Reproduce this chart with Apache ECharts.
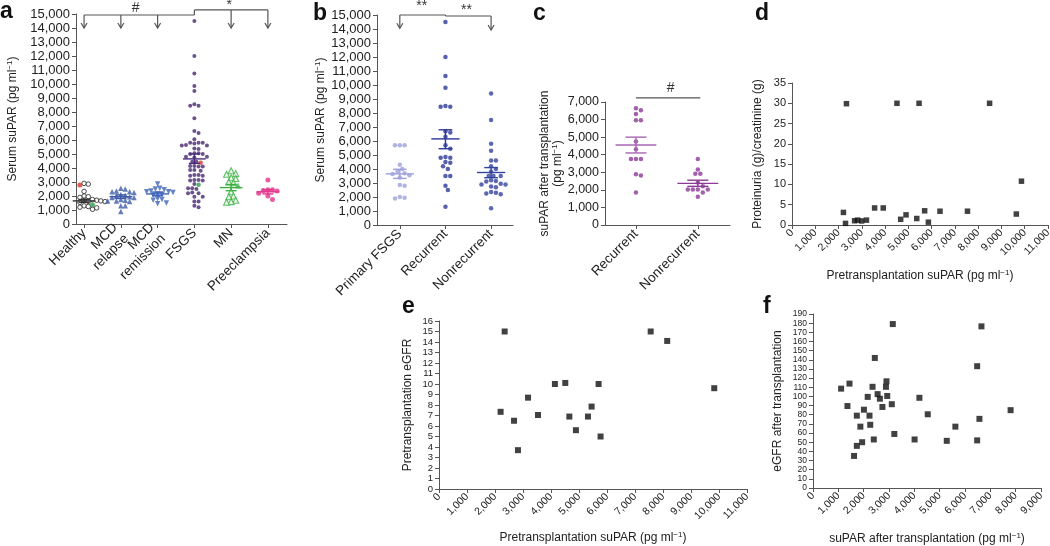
<!DOCTYPE html>
<html>
<head>
<meta charset="utf-8">
<script src="https://cdn.jsdelivr.net/npm/echarts@6/dist/echarts.min.js"></script>
<style>
  html, body { margin: 0; padding: 0; background: #fff; }
  #main { width: 1050px; height: 546px; }
</style>
</head>
<body>
<div id="main"></div>
<script>
// ---- panel a: serum suPAR by group
const aGroups = ['Healthy', 'MCD\nrelapse', 'MCD\nremission', 'FSGS', 'MN', 'Preeclampsia'];
const aHealthy = [2900, 2850, 2330, 2000, 1950, 1900, 1750, 1720, 1700, 1700, 1680, 1650, 1620, 1600, 1600, 1550, 1450, 1300, 1250, 1200, 1200, 1150, 1100, 1050];
const aHealthyRed = [2790];
const aHealthyGreen = [1380];
const aMcdRelapse = [2550, 2500, 2350, 2300, 2300, 2250, 2100, 2050, 2000, 1950, 1900, 1900, 1750, 1700, 1650, 1650, 1600, 1300, 1300, 900];
const aMcdRemission = [2850, 2550, 2500, 2450, 2350, 2300, 2300, 2250, 2150, 2100, 2050, 1800, 1750, 1700, 1500, 1450];
const aFsgs = [14500, 12000, 10750, 9850, 9500, 8550, 8450, 8450, 7550, 6650, 6500, 6050, 5800, 5800, 5800, 5750, 5650, 5600, 5600, 5400, 5350,
  5050, 5050, 5000, 5000, 4800, 4800, 4750, 4450, 4450, 4150, 4150, 4100, 4100, 3850, 3850, 3800, 3500, 3500, 3450, 3450, 3150, 3150, 3100,
  3100, 2850, 2550, 2550, 2500, 2250, 2200, 2200, 1950, 1950, 1600, 1600, 1300, 1200];
const aFsgsRed = [4380];
const aFsgsGreen = [2800];
const aMn = [3800, 3600, 3550, 3300, 3250, 3000, 2950, 2300, 2000, 1950, 1700, 1600, 1550];
const aMnFilled = [2750];
const aPre = [3150, 2450, 2450, 2400, 2350, 2200, 2000, 1750];
const aMean = [1650, 1950, 2150, 4650, 2600, 2300];
const aSemHi = [1750, 2080, 2280, 5000, 2820, 2450];
const aSemLo = [1550, 1820, 2020, 4330, 2380, 2150];

// ---- panel b
const bGroups = ['Primary FSGS', 'Recurrent', 'Nonrecurrent'];
const bPrimary = [5700, 5700, 5700, 4300, 4000, 3800, 3700, 3650, 3550, 3400, 2850, 2800, 2000, 1950, 1900];
const bRecurrent = [14500, 12000, 10650, 9800, 8450, 8450, 8500, 6700, 6600, 6300, 5700, 5450, 4850, 4800, 4800, 4500, 4450, 4200, 4000, 3500, 3500, 2800, 2500, 1300];
const bNonrecurrent = [9400, 7500, 5800, 5300, 4600, 4600, 4200, 4000, 3800, 3500, 3500, 3500, 3200, 3150, 3100, 2950, 2900, 2900, 2750, 2700, 2350, 2300, 2250, 2200, 1200];
const bMean = [3650, 6150, 3750];
const bSemHi = [3980, 6800, 4100];
const bSemLo = [3330, 5450, 3380];

// ---- panel c
const cGroups = ['Recurrent', 'Nonrecurrent'];
const cRecurrent = [6650, 6530, 6320, 5960, 5960, 4750, 4310, 3760, 3760, 3760, 2890, 2820, 1850];
const cNonrecurrent = [3750, 3160, 2910, 2910, 2420, 2210, 2020, 2020, 2020, 2020, 1850, 1610];
const cMean = [4550, 2370];
const cSemHi = [5000, 2550];
const cSemLo = [4100, 2200];

// ---- panel d
const dSuPAR = [2210, 2300, 2340, 2690, 2820, 2990, 3200, 3550, 3920, 4510, 4670, 4900, 5360, 5460, 5700, 5860, 6360, 7540, 8490, 9640, 9860];
const dProteinuria = [3.1, 0.4, 29.9, 1.05, 1.2, 1.0, 1.2, 4.2, 4.2, 30, 1.4, 2.5, 1.6, 30, 3.5, 0.7, 3.4, 3.4, 30, 2.7, 10.8];

// ---- panel e
const eSuPAR = [2200, 2345, 2680, 2820, 3180, 3535, 4140, 4510, 4655, 4890, 5320, 5450, 5700, 5770, 7560, 8150, 9830];
const eGFR = [7.35, 15, 6.5, 3.7, 8.7, 7.05, 10, 10.1, 6.9, 5.6, 6.9, 7.85, 10, 5, 15, 14.1, 9.6];

// ---- panel f
const fSuPAR = [1110, 1360, 1440, 1620, 1730, 1730, 1870, 1940, 2010, 2160, 2230, 2260, 2350, 2400, 2440, 2550, 2640, 2740, 2880, 2900, 2930,
  3110, 3150, 3210, 4010, 4200, 4530, 5280, 5620, 6480, 6480, 6570, 6650, 7800];
const fGFR = [108.5, 89.5, 114, 35, 46, 79, 67, 50, 85.5, 99.5, 79, 69, 110.5, 53, 142, 102.5, 97.5, 88.5, 110.5, 116.5, 100.5,
  91.5, 179, 59, 53, 98.5, 80.5, 51.5, 67, 133, 52, 75.5, 176.5, 85];

// tick labels of the dense axes
const eGfrTicks = [0, 1, 2, 3, 4, 5, 6, 7, 8, 9, 10, 11, 12, 13, 14, 15, 16];
const fGfrTicks = [0, 10, 20, 30, 40, 50, 60, 70, 80, 90, 100, 110, 120, 130, 140, 150, 160, 170, 180, 190];

const FONT = '"Liberation Sans", Arial, Helvetica, sans-serif';
const INK = '#222';
const AXIS = '#555';
const comma = v => String(v).replace(/\B(?=(\d{3})+(?!\d))/g, ',');

// simple beeswarm: spread equal-ish values sideways so dots do not overlap
function swarm(vals, gi, yPx, xPx, d) {
  const placed = [];
  const out = new Array(vals.length);
  vals.map((v, k) => ({ v, k })).sort((p, q) => q.v - p.v).forEach(p => {
    const y = p.v * yPx;
    for (let j = 0; j < 60; j++) {
      const off = (j % 2 ? 1 : -1) * Math.ceil(j / 2) * d * 0.5;
      const hit = placed.some(q => (q.x - off) ** 2 + (q.y - y) ** 2 < d * d);
      if (!hit) {
        placed.push({ x: off, y });
        out[p.k] = [gi + off / xPx, p.v];
        break;
      }
    }
  });
  return out;
}

// split a swarm over several arrays that share one column
function swarmParts(parts, gi, yPx, xPx, d) {
  const all = [].concat(...parts);
  const pts = swarm(all, gi, yPx, xPx, d);
  const res = [];
  let s = 0;
  parts.forEach(p => { res.push(pts.slice(s, s + p.length)); s += p.length; });
  return res;
}

const nameStyle = (size) => ({
  fontFamily: FONT, fontSize: size, color: INK,
  rich: { sup: { fontFamily: FONT, fontSize: Math.round(size * 0.7), color: INK, verticalAlign: 'top', lineHeight: size + 2 } }
});

function valueAxis(gi, o) {
  const fs = o.fontSize || 11;
  return {
    type: 'value', gridIndex: gi, min: o.min, max: o.max, interval: o.interval,
    name: o.name || '', nameLocation: 'middle', nameGap: o.nameGap || 30,
    nameTextStyle: nameStyle(o.nameSize || 12),
    axisLine: { show: true, onZero: false, lineStyle: { color: AXIS, width: 1 } },
    axisTick: { show: true, length: 4, lineStyle: { color: AXIS }, customValues: o.ticks },
    axisLabel: {
      color: INK, fontFamily: FONT, fontSize: fs, lineHeight: o.lineHeight || fs, margin: o.margin || 6,
      rotate: o.rotate || 0, customValues: o.ticks,
      showMinLabel: true, showMaxLabel: true, hideOverlap: false,
      formatter: o.formatter || comma
    },
    splitLine: { show: false }
  };
}

function catAxis(gi, groups, min, max, fontSize) {
  const ticks = groups.map((g, i) => i);
  return valueAxis(gi, {
    min, max, ticks, rotate: 45, fontSize, lineHeight: fontSize + 2, margin: 7,
    formatter: v => groups[Math.round(v)] || ''
  });
}

function dots(gi, data, style) {
  return Object.assign({
    type: 'scatter', xAxisIndex: gi, yAxisIndex: gi, data, z: 3,
    symbol: 'circle', symbolSize: 4.5, silent: true
  }, style);
}

function meanBars(gi, means, his, los, colors, halfW, capW) {
  return {
    type: 'custom', xAxisIndex: gi, yAxisIndex: gi, z: 6, silent: true,
    data: means.map((m, i) => [i, m, his[i], los[i]]),
    renderItem: (params, api) => {
      const i = api.value(0);
      const pm = api.coord([i, api.value(1)]);
      const ph = api.coord([i, api.value(2)]);
      const pl = api.coord([i, api.value(3)]);
      const u = api.size([1, 0])[0];
      const st = { stroke: colors[i], lineWidth: 1.4 };
      return {
        type: 'group', children: [
          { type: 'line', shape: { x1: pm[0] - halfW * u, y1: pm[1], x2: pm[0] + halfW * u, y2: pm[1] }, style: st },
          { type: 'line', shape: { x1: ph[0] - capW * u, y1: ph[1], x2: ph[0] + capW * u, y2: ph[1] }, style: st },
          { type: 'line', shape: { x1: pl[0] - capW * u, y1: pl[1], x2: pl[0] + capW * u, y2: pl[1] }, style: st },
          { type: 'line', shape: { x1: ph[0], y1: ph[1], x2: pl[0], y2: pl[1] }, style: st }
        ]
      };
    }
  };
}

// significance brackets: segments [x1,y1,x2,y2,arrow], labels [x,y,text]
function brackets(gi, segs, labels) {
  return {
    type: 'custom', xAxisIndex: gi, yAxisIndex: gi, z: 7, silent: true, clip: false,
    data: segs.map((s, i) => [i]),
    renderItem: (params, api) => {
      const s = segs[params.dataIndex];
      const p1 = api.coord([s[0], s[1]]);
      const p2 = api.coord([s[2], s[3]]);
      const st = { stroke: '#555', lineWidth: 1.2, fill: null };
      const kids = [{ type: 'line', shape: { x1: p1[0], y1: p1[1], x2: p2[0], y2: p2[1] }, style: st }];
      if (s[4]) {
        kids.push({ type: 'polyline', shape: { points: [[p2[0] - 3, p2[1] - 5], [p2[0], p2[1]], [p2[0] + 3, p2[1] - 5]] }, style: st });
      }
      if (params.dataIndex === 0) {
        labels.forEach(l => {
          const p = api.coord([l[0], l[1]]);
          kids.push({ type: 'text', x: p[0], y: p[1], style: { text: l[2], fill: '#333', font: '14px ' + FONT, align: 'center', verticalAlign: 'middle' } });
        });
      }
      return { type: 'group', children: kids };
    }
  };
}

// ---- build columns
const [hMain, hRed, hGreen] = swarmParts([aHealthy, aHealthyRed, aHealthyGreen], 0, 0.014, 36.8, 4.2);
const mcdR = swarm(aMcdRelapse, 1, 0.014, 36.8, 4.4);
const mcdM = swarm(aMcdRemission, 2, 0.014, 36.8, 4.4);
const [fMain, fRed, fGreen] = swarmParts([aFsgs, aFsgsRed, aFsgsGreen], 3, 0.014, 36.8, 4.2);
const [mnMain, mnFill] = swarmParts([aMn, aMnFilled], 4, 0.014, 36.8, 4.6);
const preP = swarm(aPre, 5, 0.014, 36.8, 4.6);
const bP = swarm(bPrimary, 0, 0.014, 45.5, 4.8);
const bR = swarm(bRecurrent, 1, 0.014, 45.5, 4.8);
const bN = swarm(bNonrecurrent, 2, 0.014, 45.5, 4.8);
const cR = swarm(cRecurrent, 0, 0.0176, 62, 5);
const cN = swarm(cNonrecurrent, 1, 0.0176, 62, 5);
const zip = (xs, ys) => xs.map((x, i) => [x, ys[i]]);

const grids = [
  { left: 76, top: 14, width: 211, height: 210 },
  { left: 377, top: 15, width: 136, height: 210 },
  { left: 605, top: 102, width: 125, height: 123 },
  { left: 792, top: 83, width: 256, height: 142 },
  { left: 439, top: 321, width: 308, height: 168 },
  { left: 813, top: 314, width: 228, height: 174 }
].map(g => Object.assign({ containLabel: false, outerBoundsMode: 'none' }, g));

const option = {
  backgroundColor: '#fff',
  animation: false,
  title: [
    ['a', 0, 0], ['b', 313, 2], ['c', 533, 2], ['d', 755, 2], ['e', 402, 295], ['f', 763, 295]
  ].map(t => ({ text: t[0], left: t[1], top: t[2], padding: 0, textStyle: { fontFamily: FONT, fontSize: 23, fontWeight: 'bold', color: '#111' } })),
  grid: grids,
  xAxis: [
    catAxis(0, aGroups, -0.22, 5.52, 13.5),
    catAxis(1, bGroups, -0.5, 2.48, 13.5),
    catAxis(2, cGroups, -0.5, 1.52, 13.5),
    valueAxis(3, { min: 0, max: 11000, interval: 1000, rotate: 45, fontSize: 10.5, name: 'Pretransplantation suPAR (pg ml{sup|−1})', nameGap: 44 }),
    valueAxis(4, { min: 0, max: 11000, interval: 1000, rotate: 45, fontSize: 10.5, name: 'Pretransplantation suPAR (pg ml{sup|−1})', nameGap: 42 }),
    valueAxis(5, { min: 0, max: 9000, interval: 1000, rotate: 45, fontSize: 10.5, name: 'suPAR after transplantation (pg ml{sup|−1})', nameGap: 44 })
  ],
  yAxis: [
    valueAxis(0, { min: 0, max: 15000, interval: 1000, fontSize: 13, lineHeight: 12, name: 'Serum suPAR (pg ml{sup|−1})', nameGap: 56 }),
    valueAxis(1, { min: 0, max: 15000, interval: 1000, fontSize: 13, lineHeight: 12, name: 'Serum suPAR (pg ml{sup|−1})', nameGap: 49 }),
    valueAxis(2, { min: 0, max: 7000, interval: 1000, fontSize: 12.5, name: 'suPAR after transplantation\n(pg ml{sup|−1})', nameGap: 40 }),
    valueAxis(3, { min: 0, max: 35, interval: 5, fontSize: 11, name: 'Proteinuria (g)/creatinine (g)', nameGap: 28 }),
    valueAxis(4, { min: 0, max: 16, interval: 1, ticks: eGfrTicks, fontSize: 9.5, lineHeight: 9, name: 'Pretransplantation eGFR', nameGap: 25 }),
    valueAxis(5, { min: 0, max: 190, interval: 10, ticks: fGfrTicks, fontSize: 8.5, lineHeight: 8, name: 'eGFR after transplantation', nameGap: 29 })
  ],
  series: [
    // panel a
    dots(0, hMain, { symbolSize: 4.5, itemStyle: { color: '#fff', borderColor: '#222', borderWidth: 1 } }),
    dots(0, hRed, { symbolSize: 5, itemStyle: { color: '#d8352a' } }),
    dots(0, hGreen, { symbolSize: 5, itemStyle: { color: '#2f9c4c' } }),
    dots(0, mcdR, { symbol: 'triangle', symbolSize: 5.5, itemStyle: { color: '#3d5ba9' } }),
    dots(0, mcdM, { symbol: 'triangle', symbolRotate: 180, symbolSize: 5.5, itemStyle: { color: '#3f64b9' } }),
    dots(0, fMain, { symbolSize: 4, itemStyle: { color: '#47286f' } }),
    dots(0, fRed, { symbolSize: 4.5, itemStyle: { color: '#d8352a' } }),
    dots(0, fGreen, { symbolSize: 4.5, itemStyle: { color: '#2f9c4c' } }),
    dots(0, mnMain, { symbol: 'triangle', symbolSize: 6, itemStyle: { color: '#e4f4e2', borderColor: '#3cb044', borderWidth: 1.1 } }),
    dots(0, mnFill, { symbol: 'triangle', symbolSize: 6, itemStyle: { color: '#3cb044' } }),
    dots(0, preP, { symbolSize: 5, itemStyle: { color: '#e2358b' } }),
    meanBars(0, aMean, aSemHi, aSemLo, ['#333', '#3d5ba9', '#3f64b9', '#4a2c7d', '#3cb044', '#e2358b'], 0.31, 0.15),
    brackets(0, [
      [0, 14930, 3, 14930, 0], [3, 14930, 3, 15290, 0], [3, 15290, 5, 15290, 0],
      [0, 14930, 0, 14000, 1], [1, 14930, 1, 14000, 1], [2, 14930, 2, 14000, 1],
      [4, 15290, 4, 14000, 1], [5, 15290, 5, 14000, 1]
    ], [[1.4, 15420, '#'], [3.95, 15620, '*']]),
    // panel b
    dots(1, bP, { itemStyle: { color: '#9ea0dd' } }),
    dots(1, bR, { itemStyle: { color: '#2d3897' } }),
    dots(1, bN, { itemStyle: { color: '#33449f' } }),
    meanBars(1, bMean, bSemHi, bSemLo, ['#9ea0dd', '#2d3897', '#33449f'], 0.31, 0.15),
    brackets(1, [
      [0, 15000, 1, 15000, 0], [1, 15000, 1, 14930, 0], [1, 14930, 2, 14930, 0],
      [0, 15000, 0, 14050, 1], [2, 14930, 2, 13930, 1]
    ], [[0.48, 15600, '**'], [1.46, 15360, '**']]),
    // panel c
    dots(2, cR, { itemStyle: { color: '#8c3a97' } }),
    dots(2, cN, { itemStyle: { color: '#8c3a97' } }),
    meanBars(2, cMean, cSemHi, cSemLo, ['#a866b3', '#8c3a97'], 0.33, 0.17),
    brackets(2, [[0, 7230, 1.04, 7230, 0]], [[0.56, 7780, '#']]),
    // scatter panels
    dots(3, zip(dSuPAR, dProteinuria), { symbol: 'rect', symbolSize: 5.5, itemStyle: { color: '#111' } }),
    dots(4, zip(eSuPAR, eGFR), { symbol: 'rect', symbolSize: 6, itemStyle: { color: '#111' } }),
    dots(5, zip(fSuPAR, fGFR), { symbol: 'rect', symbolSize: 6, itemStyle: { color: '#111' } })
  ]
};

const myChart = echarts.init(document.getElementById('main'), null, { renderer: 'canvas' });
myChart.setOption(option);
</script>
</body>
</html>
